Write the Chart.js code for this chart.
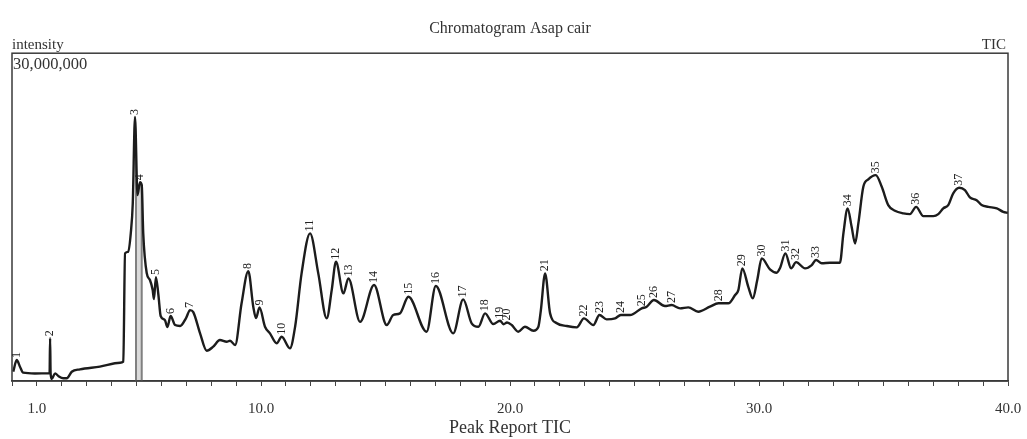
<!DOCTYPE html>
<html>
<head>
<meta charset="utf-8">
<script src="https://cdn.jsdelivr.net/npm/chart.js@4.4.1/dist/chart.umd.min.js"></script>
<style>
  html, body { margin: 0; padding: 0; background: #fff; }
  #wrap { width: 1027px; height: 439px; }
</style>
</head>
<body>
<div id="wrap"><canvas id="tic"></canvas></div>
<script>
// retention time (min)
const retentionTimes = [
  0.05, 0.19, 0.32, 0.45, 0.92, 1.46, 1.51, 1.53, 1.55, 1.59,
  1.73, 1.86, 2.06, 2.20, 2.40, 2.73, 3.53, 4.34, 4.47, 4.54,
  4.67, 4.77, 4.85, 4.94, 5.04, 5.14, 5.21, 5.27, 5.41, 5.54,
  5.65, 5.70, 5.78, 5.88, 5.97, 6.14, 6.24, 6.37, 6.55, 6.75,
  6.99, 7.15, 7.28, 7.55, 7.82, 8.08, 8.35, 8.62, 8.76, 8.96,
  9.22, 9.49, 9.69, 9.80, 9.94, 10.16, 10.36, 10.63, 10.83, 11.16,
  11.37, 11.63, 11.97, 12.30, 12.64, 12.84, 13.01, 13.31, 13.51, 13.98,
  14.54, 15.05, 15.31, 15.58, 15.92, 16.65, 17.02, 17.72, 18.12, 18.46,
  18.73, 19.00, 19.33, 19.60, 19.74, 19.88, 20.07, 20.33, 20.60, 20.94,
  21.14, 21.24, 21.41, 21.61, 21.88, 22.28, 22.68, 22.97, 23.35, 23.59,
  23.88, 24.22, 24.45, 24.82, 25.29, 25.49, 25.78, 26.22, 26.49, 26.83,
  27.16, 27.56, 28.03, 28.37, 28.77, 29.04, 29.17, 29.33, 29.57, 29.75,
  29.93, 30.11, 30.44, 30.71, 30.84, 31.06, 31.29, 31.49, 31.85, 32.12,
  32.29, 32.52, 32.85, 33.25, 33.39, 33.56, 33.72, 33.86, 33.99, 34.19,
  34.39, 34.69, 34.93, 35.19, 35.46, 35.80, 36.06, 36.31, 36.60, 37.00,
  37.20, 37.40, 37.60, 37.80, 38.04, 38.27, 38.47, 38.74, 38.94, 39.21,
  39.55, 39.81, 40.00
];

// TIC intensity (millions of counts)
const intensities = [
  0.85, 1.92, 1.31, 0.76, 0.69, 0.70, 0.70, 3.91, 0.73, 0.18,
  0.70, 0.46, 0.25, 0.25, 0.85, 1.07, 1.31, 1.67, 1.77, 11.68,
  11.83, 13.51, 16.25, 24.17, 17.01, 18.20, 17.93, 13.54, 9.88, 9.24,
  8.32, 7.50, 9.51, 7.87, 5.95, 5.58, 4.94, 5.95, 5.12, 5.03,
  5.76, 6.49, 6.31, 4.39, 2.77, 3.14, 3.75, 3.59, 3.69, 3.29,
  7.11, 10.06, 6.80, 5.76, 6.72, 4.97, 4.36, 3.45, 4.05, 2.99,
  4.97, 9.85, 13.51, 9.85, 5.73, 8.32, 10.91, 8.02, 9.39, 5.42,
  8.78, 5.12, 6.04, 6.19, 7.71, 4.51, 8.69, 4.36, 7.47, 5.28,
  4.97, 6.19, 5.21, 5.52, 5.20, 5.35, 5.12, 4.51, 4.97, 4.60,
  4.97, 6.49, 9.85, 6.19, 5.28, 5.03, 4.91, 5.73, 5.12, 6.04,
  5.64, 5.73, 6.04, 6.04, 6.65, 6.80, 7.41, 6.86, 6.95, 6.65,
  6.74, 6.34, 6.80, 7.11, 7.11, 7.87, 8.32, 10.31, 8.62, 7.56,
  9.24, 11.22, 10.22, 9.91, 10.31, 11.68, 10.31, 10.88, 10.31, 10.61,
  11.07, 10.77, 10.82, 10.82, 13.51, 15.80, 14.11, 12.59, 14.42, 17.77,
  18.45, 18.84, 17.77, 16.10, 15.58, 15.34, 15.27, 15.94, 15.09, 15.09,
  15.27, 15.80, 16.10, 17.17, 17.68, 17.47, 16.80, 16.55, 16.10, 15.94,
  15.80, 15.48, 15.39
];

// peak report
const peakNumbers = Array.from({ length: 37 }, (_, i) => i + 1);
const peakTimes = [
  0.19, 1.53, 4.94, 5.14, 5.78, 6.37, 7.15, 9.49, 9.94, 10.83,
  11.97, 13.01, 13.51, 14.54, 15.92, 17.02, 18.12, 19.00, 19.60, 19.88,
  21.41, 22.97, 23.59, 24.45, 25.29, 25.78, 26.49, 28.37, 29.33, 30.11,
  31.06, 31.49, 32.29, 33.56, 34.69, 36.31, 38.04
];

// integration marks of the big peak
const markerTimes = [4.98, 5.21];

const xTickLabels = [1, 10, 20, 30, 40];
const yMax = 30; // 30,000,000

const serif = "'Liberation Serif', 'Times New Roman', serif";

function valueAt(t) {
  for (let i = 1; i < retentionTimes.length; i++) {
    if (retentionTimes[i] >= t) {
      const t0 = retentionTimes[i - 1], t1 = retentionTimes[i];
      const f = (t - t0) / (t1 - t0);
      return intensities[i - 1] + f * (intensities[i] - intensities[i - 1]);
    }
  }
  return intensities[intensities.length - 1];
}

function nearestIndex(t) {
  let best = 0;
  retentionTimes.forEach((rt, i) => {
    if (Math.abs(rt - t) < Math.abs(retentionTimes[best] - t)) best = i;
  });
  return best;
}

/* frame, header texts, peak numbers */
const decorations = {
  id: "decorations",
  beforeDatasetsDraw(chart) {
    const { ctx, chartArea: a, scales: { x, y } } = chart;
    // shaded integration band
    const xa = x.getPixelForValue(markerTimes[0]);
    const xb = x.getPixelForValue(markerTimes[1]);
    const topY = y.getPixelForValue(valueAt(markerTimes[1]));
    ctx.save();
    ctx.fillStyle = "rgba(150,150,150,0.35)";
    ctx.fillRect(xa, topY, xb - xa, a.bottom - topY);
    ctx.strokeStyle = "#808080";
    ctx.lineWidth = 2;
    markerTimes.forEach(t => {
      const px = x.getPixelForValue(t);
      ctx.beginPath();
      ctx.moveTo(px, y.getPixelForValue(valueAt(t)));
      ctx.lineTo(px, a.bottom);
      ctx.stroke();
    });
    ctx.restore();
  },
  afterDraw(chart) {
    const { ctx, chartArea: a, scales: { x, y } } = chart;
    ctx.save();
    ctx.strokeStyle = "#3a3a3a";
    ctx.lineWidth = 1.5;
    ctx.strokeRect(a.left, a.top, a.right - a.left, a.bottom - a.top);

    ctx.fillStyle = "#333";
    ctx.font = `15px ${serif}`;
    ctx.textBaseline = "bottom";
    ctx.textAlign = "left";
    ctx.fillText("intensity", a.left, a.top - 1);
    ctx.textAlign = "right";
    ctx.fillText("TIC", a.right - 2, a.top - 1);
    ctx.font = `16.5px ${serif}`;
    ctx.textAlign = "left";
    ctx.textBaseline = "top";
    ctx.fillText("30,000,000", a.left + 1, a.top + 3);

    // peak numbers, rotated
    ctx.font = `12px ${serif}`;
    ctx.fillStyle = "#222";
    peakNumbers.forEach((n, i) => {
      const idx = nearestIndex(peakTimes[i]);
      const px = x.getPixelForValue(peakTimes[i]);
      const py = y.getPixelForValue(intensities[idx]);
      ctx.save();
      ctx.translate(px, py - 2);
      ctx.rotate(-Math.PI / 2);
      ctx.textAlign = "left";
      ctx.textBaseline = "middle";
      ctx.fillText(String(n), 0, 0);
      ctx.restore();
    });
    ctx.restore();
  }
};

new Chart(document.getElementById("tic"), {
  type: "line",
  data: {
    datasets: [{
      data: retentionTimes.map((t, i) => ({ x: t, y: intensities[i] })),
      borderColor: "#1c1c1c",
      borderWidth: 2.4,
      pointRadius: 0,
      cubicInterpolationMode: "monotone",
      fill: false
    }]
  },
  options: {
    responsive: true,
    maintainAspectRatio: false,
    animation: false,
    layout: { padding: { left: 12, right: 19, top: 0, bottom: 0 } },
    plugins: {
      legend: { display: false },
      tooltip: { enabled: false },
      title: {
        display: true,
        text: "Chromatogram Asap cair",
        color: "#333",
        font: { family: serif, size: 16, weight: "normal" },
        padding: { top: 19, bottom: 15 }
      }
    },
    scales: {
      x: {
        type: "linear",
        min: 0,
        max: 40,
        grid: { drawOnChartArea: false, drawTicks: true, tickLength: 5, color: "#444" },
        border: { display: true, color: "#3a3a3a", width: 1.5 },
        ticks: {
          stepSize: 1,
          autoSkip: false,
          maxRotation: 0,
          padding: 14,
          color: "#333",
          font: { family: serif, size: 15 },
          callback: v => xTickLabels.includes(v) ? v.toFixed(1) : ""
        },
        title: {
          display: true,
          text: "Peak Report TIC",
          color: "#333",
          font: { family: serif, size: 18 },
          padding: { top: 0, bottom: 0 }
        },
        afterFit: s => {
          s.height = 58;
          s.paddingLeft = 0;
          s.paddingRight = 0;
        }
      },
      y: {
        display: false,
        min: 0,
        max: yMax
      }
    }
  },
  plugins: [decorations]
});
</script>
</body>
</html>
